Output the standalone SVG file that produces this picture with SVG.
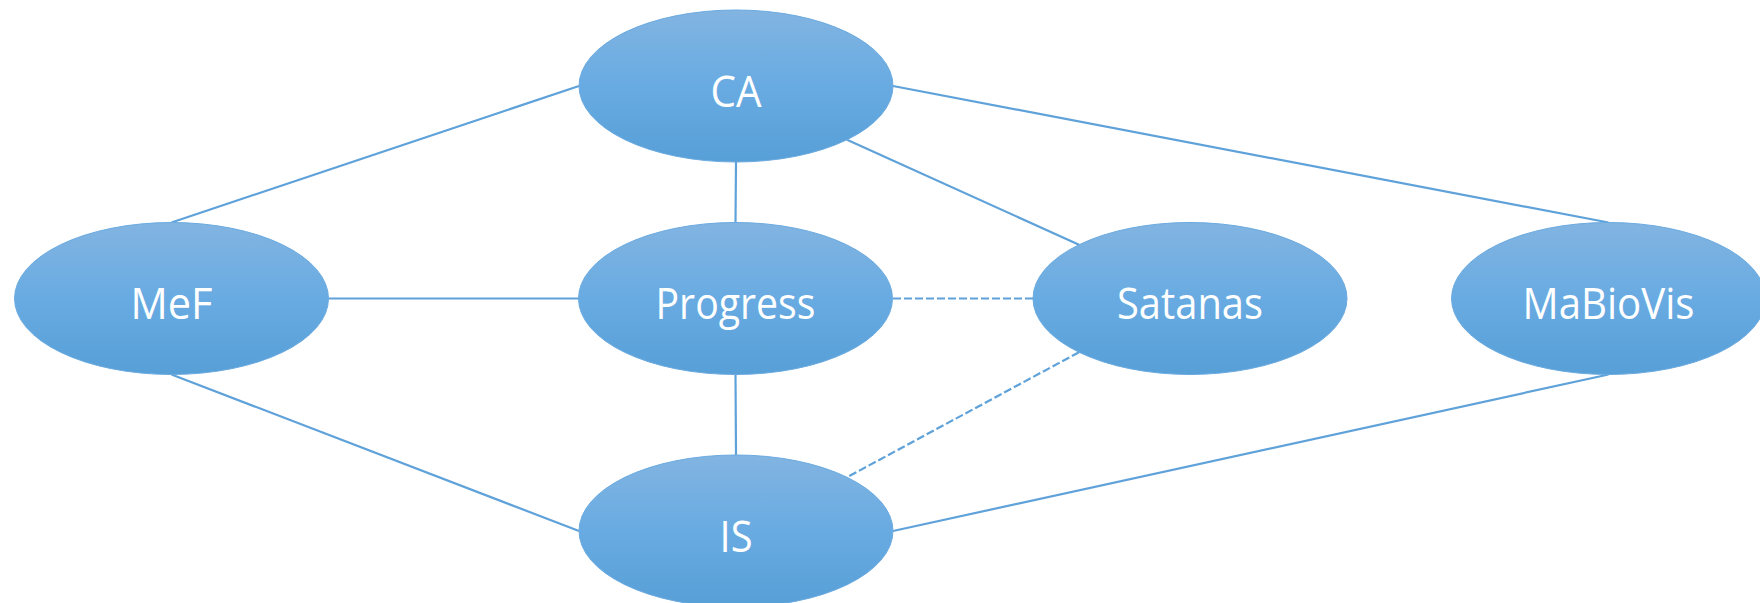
<svg xmlns="http://www.w3.org/2000/svg" width="1760" height="603" viewBox="0 0 1760 603">
<defs>
<linearGradient id="g" x1="0" y1="0" x2="0" y2="1">
<stop offset="0" stop-color="#82b4e1"/>
<stop offset="0.5" stop-color="#68abe2"/>
<stop offset="1" stop-color="#579fd7"/>
</linearGradient>
<style>
.n ellipse{fill:url(#g);stroke:#6aaae0;stroke-width:1}
.n text{font-family:"Open Sans","Noto Sans",sans-serif;font-size:43px;fill:#ffffff;text-anchor:middle}
.c line{stroke:#5fa2da;stroke-width:2.2;fill:none}
.c line.d{stroke-dasharray:8 3}
</style>
</defs>
<rect width="1760" height="603" fill="#ffffff"/>
<g id="connectors" class="c">
<line x1="579" y1="86" x2="171.5" y2="222.5"/>
<line x1="893" y1="86" x2="1608.5" y2="222.5"/>
<line x1="736" y1="162" x2="735.5" y2="222.5"/>
<line x1="847" y1="139.7" x2="1079" y2="244.8"/>
<line x1="328.5" y1="298.5" x2="579" y2="298.5"/>
<line x1="171.5" y1="374.5" x2="579" y2="531"/>
<line class="d" x1="893" y1="298.5" x2="1033" y2="298.5"/>
<line x1="735.5" y1="374.5" x2="736" y2="455"/>
<line class="d" x1="1079" y1="352.2" x2="847" y2="477.3"/>
<line x1="1608.5" y1="374.5" x2="893" y2="531"/>
</g>
<g id="CA" class="n"><ellipse cx="736" cy="86" rx="157" ry="76"/><text x="736" y="106.5" textLength="51" lengthAdjust="spacingAndGlyphs">CA</text></g>
<g id="MeF" class="n"><ellipse cx="171.5" cy="298.5" rx="157" ry="76"/><text x="171.5" y="318.5" textLength="82" lengthAdjust="spacingAndGlyphs">MeF</text></g>
<g id="Progress" class="n"><ellipse cx="735.5" cy="298.5" rx="157" ry="76"/><text x="735.5" y="318.5" textLength="160" lengthAdjust="spacingAndGlyphs">Progress</text></g>
<g id="Satanas" class="n"><ellipse cx="1190" cy="298.5" rx="157" ry="76"/><text x="1190" y="318.5" textLength="146" lengthAdjust="spacingAndGlyphs">Satanas</text></g>
<g id="MaBioVis" class="n"><ellipse cx="1608.5" cy="298.5" rx="157" ry="76"/><text x="1608.5" y="318.5" textLength="172" lengthAdjust="spacingAndGlyphs">MaBioVis</text></g>
<g id="IS" class="n"><ellipse cx="736" cy="531" rx="157" ry="76"/><text x="736" y="551.5" textLength="33" lengthAdjust="spacingAndGlyphs">IS</text></g>
</svg>
